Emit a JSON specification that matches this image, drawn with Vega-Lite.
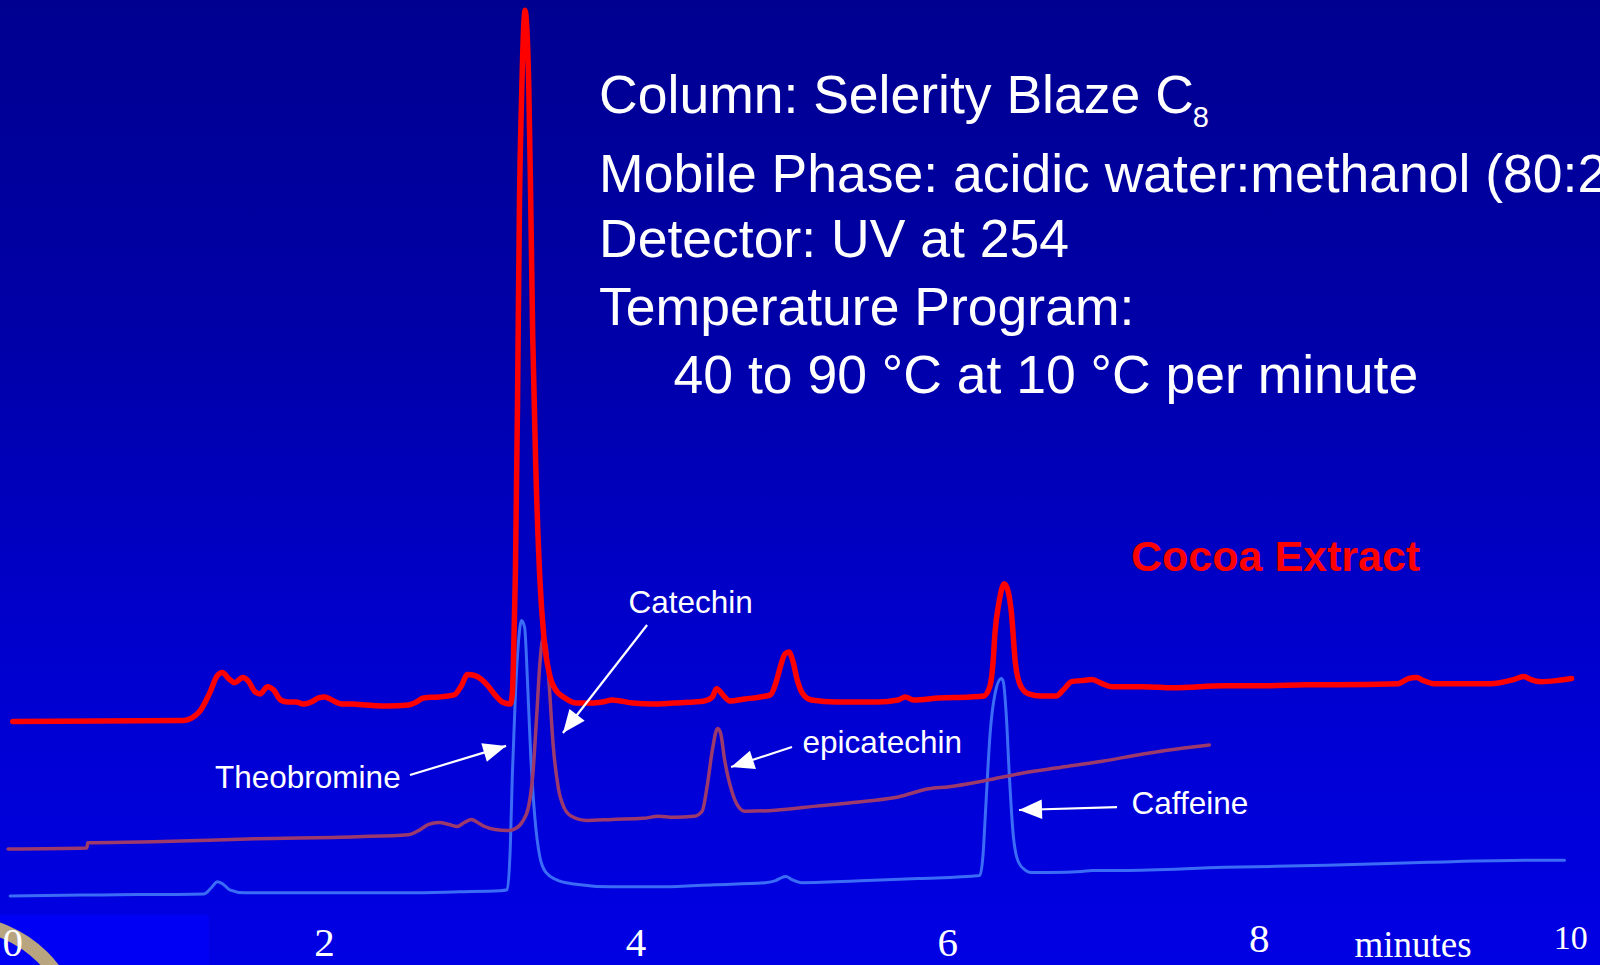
{
  "$schema": "https://vega.github.io/schema/vega-lite/v6.json",
  "width": 1600,
  "height": 965,
  "autosize": {"type": "none"},
  "padding": 0,
  "background": "#0000c0",
  "config": {"view": {"stroke": null}, "font": "Liberation Sans"},
  "datasets": {
    "traces": [
      {"sample": "Cocoa Extract", "time": 0.000, "signal": 193},
      {"sample": "Cocoa Extract", "time": 1.097, "signal": 194},
      {"sample": "Cocoa Extract", "time": 1.195, "signal": 202},
      {"sample": "Cocoa Extract", "time": 1.261, "signal": 220},
      {"sample": "Cocoa Extract", "time": 1.313, "signal": 238},
      {"sample": "Cocoa Extract", "time": 1.346, "signal": 241},
      {"sample": "Cocoa Extract", "time": 1.385, "signal": 235},
      {"sample": "Cocoa Extract", "time": 1.424, "signal": 231},
      {"sample": "Cocoa Extract", "time": 1.477, "signal": 236},
      {"sample": "Cocoa Extract", "time": 1.509, "signal": 233},
      {"sample": "Cocoa Extract", "time": 1.555, "signal": 222},
      {"sample": "Cocoa Extract", "time": 1.588, "signal": 220},
      {"sample": "Cocoa Extract", "time": 1.634, "signal": 227},
      {"sample": "Cocoa Extract", "time": 1.673, "signal": 224},
      {"sample": "Cocoa Extract", "time": 1.719, "signal": 214},
      {"sample": "Cocoa Extract", "time": 1.765, "signal": 212},
      {"sample": "Cocoa Extract", "time": 1.817, "signal": 212},
      {"sample": "Cocoa Extract", "time": 1.870, "signal": 210},
      {"sample": "Cocoa Extract", "time": 1.916, "signal": 212},
      {"sample": "Cocoa Extract", "time": 1.962, "signal": 216},
      {"sample": "Cocoa Extract", "time": 2.001, "signal": 217},
      {"sample": "Cocoa Extract", "time": 2.047, "signal": 214},
      {"sample": "Cocoa Extract", "time": 2.112, "signal": 210},
      {"sample": "Cocoa Extract", "time": 2.178, "signal": 210},
      {"sample": "Cocoa Extract", "time": 2.276, "signal": 209},
      {"sample": "Cocoa Extract", "time": 2.407, "signal": 208},
      {"sample": "Cocoa Extract", "time": 2.538, "signal": 209},
      {"sample": "Cocoa Extract", "time": 2.590, "signal": 212},
      {"sample": "Cocoa Extract", "time": 2.636, "signal": 216},
      {"sample": "Cocoa Extract", "time": 2.735, "signal": 217},
      {"sample": "Cocoa Extract", "time": 2.833, "signal": 219},
      {"sample": "Cocoa Extract", "time": 2.879, "signal": 228},
      {"sample": "Cocoa Extract", "time": 2.918, "signal": 239},
      {"sample": "Cocoa Extract", "time": 2.964, "signal": 238},
      {"sample": "Cocoa Extract", "time": 3.010, "signal": 234},
      {"sample": "Cocoa Extract", "time": 3.049, "signal": 228},
      {"sample": "Cocoa Extract", "time": 3.095, "signal": 219},
      {"sample": "Cocoa Extract", "time": 3.141, "signal": 212},
      {"sample": "Cocoa Extract", "time": 3.193, "signal": 210},
      {"sample": "Cocoa Extract", "time": 3.206, "signal": 220},
      {"sample": "Cocoa Extract", "time": 3.213, "signal": 250},
      {"sample": "Cocoa Extract", "time": 3.226, "signal": 340},
      {"sample": "Cocoa Extract", "time": 3.239, "signal": 500},
      {"sample": "Cocoa Extract", "time": 3.252, "signal": 704},
      {"sample": "Cocoa Extract", "time": 3.265, "signal": 802},
      {"sample": "Cocoa Extract", "time": 3.278, "signal": 870},
      {"sample": "Cocoa Extract", "time": 3.288, "signal": 890},
      {"sample": "Cocoa Extract", "time": 3.298, "signal": 875},
      {"sample": "Cocoa Extract", "time": 3.311, "signal": 820},
      {"sample": "Cocoa Extract", "time": 3.324, "signal": 704},
      {"sample": "Cocoa Extract", "time": 3.337, "signal": 570},
      {"sample": "Cocoa Extract", "time": 3.357, "signal": 440},
      {"sample": "Cocoa Extract", "time": 3.383, "signal": 332},
      {"sample": "Cocoa Extract", "time": 3.409, "signal": 275},
      {"sample": "Cocoa Extract", "time": 3.448, "signal": 237},
      {"sample": "Cocoa Extract", "time": 3.488, "signal": 223},
      {"sample": "Cocoa Extract", "time": 3.534, "signal": 217},
      {"sample": "Cocoa Extract", "time": 3.619, "signal": 211},
      {"sample": "Cocoa Extract", "time": 3.717, "signal": 211},
      {"sample": "Cocoa Extract", "time": 3.783, "signal": 212},
      {"sample": "Cocoa Extract", "time": 3.848, "signal": 214},
      {"sample": "Cocoa Extract", "time": 3.979, "signal": 211},
      {"sample": "Cocoa Extract", "time": 4.110, "signal": 210},
      {"sample": "Cocoa Extract", "time": 4.241, "signal": 211},
      {"sample": "Cocoa Extract", "time": 4.372, "signal": 212},
      {"sample": "Cocoa Extract", "time": 4.438, "signal": 213},
      {"sample": "Cocoa Extract", "time": 4.490, "signal": 217},
      {"sample": "Cocoa Extract", "time": 4.516, "signal": 225},
      {"sample": "Cocoa Extract", "time": 4.569, "signal": 217},
      {"sample": "Cocoa Extract", "time": 4.601, "signal": 213},
      {"sample": "Cocoa Extract", "time": 4.700, "signal": 215},
      {"sample": "Cocoa Extract", "time": 4.798, "signal": 217},
      {"sample": "Cocoa Extract", "time": 4.863, "signal": 219},
      {"sample": "Cocoa Extract", "time": 4.896, "signal": 230},
      {"sample": "Cocoa Extract", "time": 4.929, "signal": 248},
      {"sample": "Cocoa Extract", "time": 4.955, "signal": 259},
      {"sample": "Cocoa Extract", "time": 4.981, "signal": 261},
      {"sample": "Cocoa Extract", "time": 5.007, "signal": 252},
      {"sample": "Cocoa Extract", "time": 5.034, "signal": 234},
      {"sample": "Cocoa Extract", "time": 5.066, "signal": 221},
      {"sample": "Cocoa Extract", "time": 5.125, "signal": 214},
      {"sample": "Cocoa Extract", "time": 5.289, "signal": 212},
      {"sample": "Cocoa Extract", "time": 5.551, "signal": 212},
      {"sample": "Cocoa Extract", "time": 5.682, "signal": 214},
      {"sample": "Cocoa Extract", "time": 5.728, "signal": 217},
      {"sample": "Cocoa Extract", "time": 5.780, "signal": 214},
      {"sample": "Cocoa Extract", "time": 5.944, "signal": 216},
      {"sample": "Cocoa Extract", "time": 6.141, "signal": 217},
      {"sample": "Cocoa Extract", "time": 6.232, "signal": 218},
      {"sample": "Cocoa Extract", "time": 6.272, "signal": 228},
      {"sample": "Cocoa Extract", "time": 6.291, "signal": 250},
      {"sample": "Cocoa Extract", "time": 6.304, "signal": 280},
      {"sample": "Cocoa Extract", "time": 6.330, "signal": 310},
      {"sample": "Cocoa Extract", "time": 6.363, "signal": 328},
      {"sample": "Cocoa Extract", "time": 6.389, "signal": 320},
      {"sample": "Cocoa Extract", "time": 6.409, "signal": 300},
      {"sample": "Cocoa Extract", "time": 6.435, "signal": 250},
      {"sample": "Cocoa Extract", "time": 6.468, "signal": 228},
      {"sample": "Cocoa Extract", "time": 6.520, "signal": 220},
      {"sample": "Cocoa Extract", "time": 6.599, "signal": 218},
      {"sample": "Cocoa Extract", "time": 6.697, "signal": 218},
      {"sample": "Cocoa Extract", "time": 6.743, "signal": 224},
      {"sample": "Cocoa Extract", "time": 6.796, "signal": 232},
      {"sample": "Cocoa Extract", "time": 6.861, "signal": 233},
      {"sample": "Cocoa Extract", "time": 6.927, "signal": 234},
      {"sample": "Cocoa Extract", "time": 6.992, "signal": 230},
      {"sample": "Cocoa Extract", "time": 7.058, "signal": 227},
      {"sample": "Cocoa Extract", "time": 7.254, "signal": 227},
      {"sample": "Cocoa Extract", "time": 7.451, "signal": 226},
      {"sample": "Cocoa Extract", "time": 7.778, "signal": 228},
      {"sample": "Cocoa Extract", "time": 8.040, "signal": 228},
      {"sample": "Cocoa Extract", "time": 8.302, "signal": 229},
      {"sample": "Cocoa Extract", "time": 8.499, "signal": 229},
      {"sample": "Cocoa Extract", "time": 8.892, "signal": 230},
      {"sample": "Cocoa Extract", "time": 8.957, "signal": 235},
      {"sample": "Cocoa Extract", "time": 9.009, "signal": 236},
      {"sample": "Cocoa Extract", "time": 9.055, "signal": 233},
      {"sample": "Cocoa Extract", "time": 9.121, "signal": 230},
      {"sample": "Cocoa Extract", "time": 9.481, "signal": 230},
      {"sample": "Cocoa Extract", "time": 9.632, "signal": 234},
      {"sample": "Cocoa Extract", "time": 9.697, "signal": 237},
      {"sample": "Cocoa Extract", "time": 9.743, "signal": 234},
      {"sample": "Cocoa Extract", "time": 9.809, "signal": 232},
      {"sample": "Cocoa Extract", "time": 9.907, "signal": 233},
      {"sample": "Cocoa Extract", "time": 10.005, "signal": 235},

      {"sample": "Catechin standard", "time": -0.030, "signal": 68},
      {"sample": "Catechin standard", "time": 0.475, "signal": 69},
      {"sample": "Catechin standard", "time": 0.481, "signal": 74},
      {"sample": "Catechin standard", "time": 0.901, "signal": 75},
      {"sample": "Catechin standard", "time": 1.555, "signal": 78},
      {"sample": "Catechin standard", "time": 2.211, "signal": 80},
      {"sample": "Catechin standard", "time": 2.538, "signal": 82},
      {"sample": "Catechin standard", "time": 2.604, "signal": 86},
      {"sample": "Catechin standard", "time": 2.669, "signal": 92},
      {"sample": "Catechin standard", "time": 2.735, "signal": 94},
      {"sample": "Catechin standard", "time": 2.800, "signal": 92},
      {"sample": "Catechin standard", "time": 2.852, "signal": 90},
      {"sample": "Catechin standard", "time": 2.898, "signal": 94},
      {"sample": "Catechin standard", "time": 2.944, "signal": 97},
      {"sample": "Catechin standard", "time": 2.983, "signal": 94},
      {"sample": "Catechin standard", "time": 3.029, "signal": 90},
      {"sample": "Catechin standard", "time": 3.095, "signal": 87},
      {"sample": "Catechin standard", "time": 3.173, "signal": 86},
      {"sample": "Catechin standard", "time": 3.226, "signal": 88},
      {"sample": "Catechin standard", "time": 3.272, "signal": 95},
      {"sample": "Catechin standard", "time": 3.311, "signal": 110},
      {"sample": "Catechin standard", "time": 3.337, "signal": 140},
      {"sample": "Catechin standard", "time": 3.363, "signal": 200},
      {"sample": "Catechin standard", "time": 3.383, "signal": 250},
      {"sample": "Catechin standard", "time": 3.403, "signal": 274},
      {"sample": "Catechin standard", "time": 3.422, "signal": 268},
      {"sample": "Catechin standard", "time": 3.442, "signal": 230},
      {"sample": "Catechin standard", "time": 3.468, "signal": 170},
      {"sample": "Catechin standard", "time": 3.501, "signal": 128},
      {"sample": "Catechin standard", "time": 3.540, "signal": 108},
      {"sample": "Catechin standard", "time": 3.586, "signal": 100},
      {"sample": "Catechin standard", "time": 3.684, "signal": 96},
      {"sample": "Catechin standard", "time": 3.848, "signal": 97},
      {"sample": "Catechin standard", "time": 4.045, "signal": 98},
      {"sample": "Catechin standard", "time": 4.143, "signal": 100},
      {"sample": "Catechin standard", "time": 4.241, "signal": 99},
      {"sample": "Catechin standard", "time": 4.372, "signal": 100},
      {"sample": "Catechin standard", "time": 4.424, "signal": 105},
      {"sample": "Catechin standard", "time": 4.457, "signal": 130},
      {"sample": "Catechin standard", "time": 4.490, "signal": 165},
      {"sample": "Catechin standard", "time": 4.523, "signal": 186},
      {"sample": "Catechin standard", "time": 4.542, "signal": 182},
      {"sample": "Catechin standard", "time": 4.569, "signal": 155},
      {"sample": "Catechin standard", "time": 4.614, "signal": 125},
      {"sample": "Catechin standard", "time": 4.647, "signal": 112},
      {"sample": "Catechin standard", "time": 4.700, "signal": 105},
      {"sample": "Catechin standard", "time": 4.896, "signal": 106},
      {"sample": "Catechin standard", "time": 5.158, "signal": 110},
      {"sample": "Catechin standard", "time": 5.486, "signal": 115},
      {"sample": "Catechin standard", "time": 5.682, "signal": 119},
      {"sample": "Catechin standard", "time": 5.879, "signal": 127},
      {"sample": "Catechin standard", "time": 6.010, "signal": 129},
      {"sample": "Catechin standard", "time": 6.206, "signal": 134},
      {"sample": "Catechin standard", "time": 6.337, "signal": 138},
      {"sample": "Catechin standard", "time": 6.468, "signal": 142},
      {"sample": "Catechin standard", "time": 6.730, "signal": 148},
      {"sample": "Catechin standard", "time": 6.992, "signal": 154},
      {"sample": "Catechin standard", "time": 7.254, "signal": 161},
      {"sample": "Catechin standard", "time": 7.516, "signal": 167},
      {"sample": "Catechin standard", "time": 7.680, "signal": 170},

      {"sample": "Methylxanthine standard", "time": -0.017, "signal": 22},
      {"sample": "Methylxanthine standard", "time": 0.573, "signal": 23},
      {"sample": "Methylxanthine standard", "time": 1.228, "signal": 24},
      {"sample": "Methylxanthine standard", "time": 1.274, "signal": 30},
      {"sample": "Methylxanthine standard", "time": 1.313, "signal": 36},
      {"sample": "Methylxanthine standard", "time": 1.346, "signal": 34},
      {"sample": "Methylxanthine standard", "time": 1.392, "signal": 28},
      {"sample": "Methylxanthine standard", "time": 1.490, "signal": 25},
      {"sample": "Methylxanthine standard", "time": 1.883, "signal": 25},
      {"sample": "Methylxanthine standard", "time": 2.538, "signal": 25},
      {"sample": "Methylxanthine standard", "time": 2.866, "signal": 26},
      {"sample": "Methylxanthine standard", "time": 3.128, "signal": 27},
      {"sample": "Methylxanthine standard", "time": 3.173, "signal": 28},
      {"sample": "Methylxanthine standard", "time": 3.193, "signal": 70},
      {"sample": "Methylxanthine standard", "time": 3.206, "signal": 140},
      {"sample": "Methylxanthine standard", "time": 3.226, "signal": 220},
      {"sample": "Methylxanthine standard", "time": 3.245, "signal": 270},
      {"sample": "Methylxanthine standard", "time": 3.265, "signal": 292},
      {"sample": "Methylxanthine standard", "time": 3.285, "signal": 285},
      {"sample": "Methylxanthine standard", "time": 3.304, "signal": 230},
      {"sample": "Methylxanthine standard", "time": 3.324, "signal": 160},
      {"sample": "Methylxanthine standard", "time": 3.350, "signal": 100},
      {"sample": "Methylxanthine standard", "time": 3.383, "signal": 60},
      {"sample": "Methylxanthine standard", "time": 3.422, "signal": 45},
      {"sample": "Methylxanthine standard", "time": 3.488, "signal": 38},
      {"sample": "Methylxanthine standard", "time": 3.586, "signal": 34},
      {"sample": "Methylxanthine standard", "time": 3.848, "signal": 31},
      {"sample": "Methylxanthine standard", "time": 4.176, "signal": 31},
      {"sample": "Methylxanthine standard", "time": 4.503, "signal": 33},
      {"sample": "Methylxanthine standard", "time": 4.830, "signal": 35},
      {"sample": "Methylxanthine standard", "time": 4.896, "signal": 37},
      {"sample": "Methylxanthine standard", "time": 4.935, "signal": 40},
      {"sample": "Methylxanthine standard", "time": 4.962, "signal": 41},
      {"sample": "Methylxanthine standard", "time": 5.001, "signal": 38},
      {"sample": "Methylxanthine standard", "time": 5.060, "signal": 35},
      {"sample": "Methylxanthine standard", "time": 5.486, "signal": 37},
      {"sample": "Methylxanthine standard", "time": 5.813, "signal": 39},
      {"sample": "Methylxanthine standard", "time": 6.206, "signal": 42},
      {"sample": "Methylxanthine standard", "time": 6.226, "signal": 60},
      {"sample": "Methylxanthine standard", "time": 6.245, "signal": 110},
      {"sample": "Methylxanthine standard", "time": 6.272, "signal": 180},
      {"sample": "Methylxanthine standard", "time": 6.304, "signal": 220},
      {"sample": "Methylxanthine standard", "time": 6.344, "signal": 235},
      {"sample": "Methylxanthine standard", "time": 6.357, "signal": 232},
      {"sample": "Methylxanthine standard", "time": 6.376, "signal": 200},
      {"sample": "Methylxanthine standard", "time": 6.396, "signal": 140},
      {"sample": "Methylxanthine standard", "time": 6.422, "signal": 80},
      {"sample": "Methylxanthine standard", "time": 6.455, "signal": 55},
      {"sample": "Methylxanthine standard", "time": 6.501, "signal": 47},
      {"sample": "Methylxanthine standard", "time": 6.534, "signal": 45},
      {"sample": "Methylxanthine standard", "time": 6.665, "signal": 45},
      {"sample": "Methylxanthine standard", "time": 6.861, "signal": 46},
      {"sample": "Methylxanthine standard", "time": 6.927, "signal": 47},
      {"sample": "Methylxanthine standard", "time": 7.123, "signal": 47},
      {"sample": "Methylxanthine standard", "time": 7.778, "signal": 50},
      {"sample": "Methylxanthine standard", "time": 8.433, "signal": 52},
      {"sample": "Methylxanthine standard", "time": 9.088, "signal": 55},
      {"sample": "Methylxanthine standard", "time": 9.743, "signal": 57},
      {"sample": "Methylxanthine standard", "time": 9.959, "signal": 57}
    ],
    "arrows": [
      {"compound": "Theobromine", "time": 2.549, "signal": 140.5, "tipTime": 3.166, "tipSignal": 169.0, "heading": 343.2},
      {"compound": "Catechin", "time": 4.071, "signal": 287.5, "tipTime": 3.531, "tipSignal": 181.7, "heading": 127.9},
      {"compound": "epicatechin", "time": 5.001, "signal": 168.0, "tipTime": 4.610, "tipSignal": 148.3, "heading": 161.8},
      {"compound": "Caffeine", "time": 7.087, "signal": 109.1, "tipTime": 6.458, "tipSignal": 106.2, "heading": 178.2}
    ],
    "notes": [
      {"kind": "compound", "text": "Theobromine", "time": 1.298, "signal": 127.8},
      {"kind": "compound", "text": "Catechin", "time": 3.952, "signal": 299.0},
      {"kind": "compound", "text": "epicatechin", "time": 5.069, "signal": 161.8},
      {"kind": "compound", "text": "Caffeine", "time": 7.180, "signal": 102.3},
      {"kind": "sample", "text": "Cocoa Extract", "time": 7.177, "signal": 340.7},
      {"kind": "condition", "text": "Column: Selerity Blaze C", "time": 3.763, "signal": 789.0},
      {"kind": "condition", "text": "Mobile Phase: acidic water:methanol (80:20)", "time": 3.763, "signal": 712.1},
      {"kind": "condition", "text": "Detector: UV at 254", "time": 3.763, "signal": 647.8},
      {"kind": "condition", "text": "Temperature Program:", "time": 3.763, "signal": 581.5},
      {"kind": "condition", "text": "40 to 90 °C at 10 °C per minute", "time": 4.241, "signal": 514.6},
      {"kind": "subscript", "text": "8", "time": 7.573, "signal": 775.5}
    ],
    "timeLabels": [
      {"minute": 0, "text": "0"},
      {"minute": 2, "text": "2"},
      {"minute": 4, "text": "4"},
      {"minute": 6, "text": "6"},
      {"minute": 8, "text": "8"},
      {"minute": 10, "text": "10"}
    ]
  },
  "layer": [
    {
      "data": {"values": [{}]},
      "mark": {
        "type": "rect",
        "color": {
          "gradient": "linear", "x1": 0, "y1": 0, "x2": 0, "y2": 1,
          "stops": [
            {"offset": 0, "color": "#000090"},
            {"offset": 0.35, "color": "#0000a8"},
            {"offset": 0.65, "color": "#0000cc"},
            {"offset": 1, "color": "#0000e4"}
          ]
        }
      },
      "encoding": {
        "x": {"value": 0}, "x2": {"value": "width"},
        "y": {"value": 0}, "y2": {"value": "height"}
      }
    },
    {
      "data": {"values": [{}]},
      "mark": {"type": "rect", "color": "#0000f5"},
      "encoding": {
        "x": {"datum": -0.0822, "type": "quantitative", "axis": null},
        "x2": {"datum": 1.259},
        "y": {"datum": 3.3, "type": "quantitative", "axis": null},
        "y2": {"datum": -45.7}
      }
    },
    {
      "data": {"values": [{}]},
      "mark": {"type": "point", "shape": "M0,-1A1,1,0,0,1,1,0", "filled": false, "size": 54756, "strokeWidth": 14, "color": "#b8a47e", "opacity": 1},
      "encoding": {
        "x": {"datum": -0.339, "type": "quantitative", "axis": null},
        "y": {"datum": -119.2, "type": "quantitative", "axis": null}
      }
    },
    {
      "data": {"name": "traces"},
      "transform": [{"filter": "datum.sample === 'Methylxanthine standard'"}],
      "mark": {"type": "line", "color": "#3b6cf5", "strokeWidth": 3, "interpolate": "monotone", "strokeJoin": "round", "strokeCap": "round"},
      "encoding": {
        "x": {
          "field": "time", "type": "quantitative",
          "scale": {"domain": [-0.0822, 10.187], "nice": false, "zero": false},
          "axis": {
            "values": [0.4, 0.6, 0.8, 1, 1.2, 1.4, 1.6, 1.8, 2, 2.2, 2.4, 2.6, 2.8, 3, 3.2, 3.4, 3.6, 3.8, 4, 4.2, 4.4, 4.6, 4.8, 5, 5.2, 5.4, 5.6, 5.8, 6, 6.2, 6.4, 6.6, 6.8, 7, 7.2, 7.4, 7.6, 7.8, 8, 8.2, 8.4, 8.6, 8.8, 9, 9.2, 9.4, 9.6, 9.8, 10],
            "offset": -59,
            "zindex": 1,
            "domain": false,
            "grid": false,
            "labels": false,
            "title": null,
            "tickColor": "#00002a",
            "tickWidth": 1.2,
            "tickSize": 6
          }
        },
        "y": {
          "field": "signal", "type": "quantitative",
          "scale": {"domain": [-45.7, 900], "nice": false, "zero": false},
          "axis": null
        }
      }
    },
    {
      "data": {"name": "traces"},
      "transform": [{"filter": "datum.sample === 'Catechin standard'"}],
      "mark": {"type": "line", "color": "#9c3a6c", "strokeWidth": 3.5, "interpolate": "monotone", "strokeJoin": "round", "strokeCap": "round"},
      "encoding": {
        "x": {"field": "time", "type": "quantitative", "axis": null},
        "y": {"field": "signal", "type": "quantitative", "axis": null}
      }
    },
    {
      "data": {"name": "traces"},
      "transform": [{"filter": "datum.sample === 'Cocoa Extract'"}],
      "mark": {"type": "line", "color": "#ff0000", "strokeWidth": 5.5, "interpolate": "monotone", "strokeJoin": "round", "strokeCap": "round"},
      "encoding": {
        "x": {"field": "time", "type": "quantitative", "axis": null},
        "y": {"field": "signal", "type": "quantitative", "axis": null}
      }
    },
    {
      "data": {"name": "arrows"},
      "mark": {"type": "rule", "color": "#ffffff", "strokeWidth": 2.2},
      "encoding": {
        "x": {"field": "time", "type": "quantitative", "axis": null},
        "y": {"field": "signal", "type": "quantitative", "axis": null},
        "x2": {"field": "tipTime"},
        "y2": {"field": "tipSignal"}
      }
    },
    {
      "data": {"name": "arrows"},
      "mark": {"type": "point", "shape": "M0,0L-1,-0.42L-1,0.42Z", "filled": true, "color": "#ffffff", "opacity": 1, "size": 2116, "strokeWidth": 0},
      "encoding": {
        "x": {"field": "tipTime", "type": "quantitative", "axis": null},
        "y": {"field": "tipSignal", "type": "quantitative", "axis": null},
        "angle": {"field": "heading", "type": "quantitative", "scale": null}
      }
    },
    {
      "data": {"name": "notes"},
      "transform": [{"filter": "datum.kind === 'compound'"}],
      "mark": {"type": "text", "align": "left", "baseline": "alphabetic", "font": "Liberation Sans", "fontSize": 31.5, "color": "#ffffff"},
      "encoding": {
        "x": {"field": "time", "type": "quantitative", "axis": null},
        "y": {"field": "signal", "type": "quantitative", "axis": null},
        "text": {"field": "text"}
      }
    },
    {
      "data": {"name": "notes"},
      "transform": [{"filter": "datum.kind === 'sample'"}],
      "mark": {"type": "text", "align": "left", "baseline": "alphabetic", "font": "Liberation Sans", "fontSize": 43, "fontWeight": "bold", "color": "#ff0000"},
      "encoding": {
        "x": {"field": "time", "type": "quantitative", "axis": null},
        "y": {"field": "signal", "type": "quantitative", "axis": null},
        "text": {"field": "text"}
      }
    },
    {
      "data": {"name": "notes"},
      "transform": [{"filter": "datum.kind === 'condition'"}],
      "mark": {"type": "text", "align": "left", "baseline": "alphabetic", "font": "Liberation Sans", "fontSize": 53.5, "color": "#ffffff"},
      "encoding": {
        "x": {"field": "time", "type": "quantitative", "axis": null},
        "y": {"field": "signal", "type": "quantitative", "axis": null},
        "text": {"field": "text"}
      }
    },
    {
      "data": {"name": "notes"},
      "transform": [{"filter": "datum.kind === 'subscript'"}],
      "mark": {"type": "text", "align": "left", "baseline": "alphabetic", "font": "Liberation Sans", "fontSize": 29, "color": "#ffffff"},
      "encoding": {
        "x": {"field": "time", "type": "quantitative", "axis": null},
        "y": {"field": "signal", "type": "quantitative", "axis": null},
        "text": {"field": "text"}
      }
    },
    {
      "data": {"name": "timeLabels"},
      "transform": [{"filter": "datum.minute <= 6"}],
      "mark": {"type": "text", "align": "center", "baseline": "alphabetic", "font": "Liberation Serif", "fontSize": 41, "color": "#ffffff"},
      "encoding": {
        "x": {"field": "minute", "type": "quantitative", "axis": null},
        "y": {"datum": -36.9, "type": "quantitative", "axis": null},
        "text": {"field": "text"}
      }
    },
    {
      "data": {"name": "timeLabels"},
      "transform": [{"filter": "datum.minute === 8"}],
      "mark": {"type": "text", "align": "center", "baseline": "alphabetic", "font": "Liberation Serif", "fontSize": 41, "color": "#ffffff"},
      "encoding": {
        "x": {"field": "minute", "type": "quantitative", "axis": null},
        "y": {"datum": -33.0, "type": "quantitative", "axis": null},
        "text": {"field": "text"}
      }
    },
    {
      "data": {"name": "timeLabels"},
      "transform": [{"filter": "datum.minute === 10"}],
      "mark": {"type": "text", "align": "center", "baseline": "alphabetic", "font": "Liberation Serif", "fontSize": 34, "color": "#ffffff"},
      "encoding": {
        "x": {"field": "minute", "type": "quantitative", "axis": null},
        "y": {"datum": -30.0, "type": "quantitative", "axis": null},
        "text": {"field": "text"}
      }
    },
    {
      "data": {"values": [{"text": "minutes"}]},
      "mark": {"type": "text", "align": "center", "baseline": "alphabetic", "font": "Liberation Serif", "fontSize": 37, "color": "#ffffff"},
      "encoding": {
        "x": {"datum": 8.987, "type": "quantitative", "axis": null},
        "y": {"datum": -37.9, "type": "quantitative", "axis": null},
        "text": {"field": "text"}
      }
    }
  ]
}
